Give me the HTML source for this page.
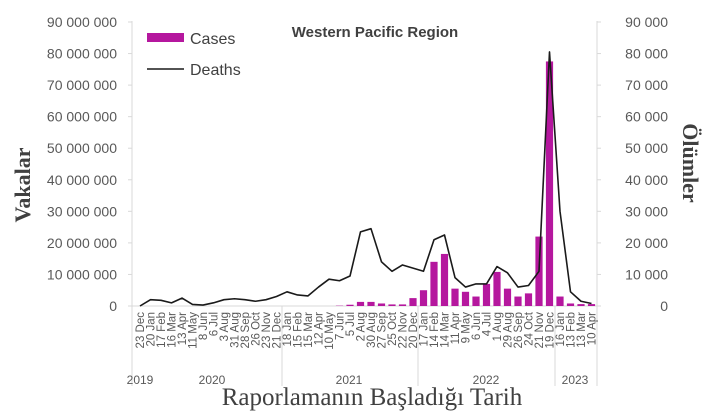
<!DOCTYPE html>
<html><head><meta charset="utf-8"><style>
html,body{margin:0;padding:0;background:#fff;width:719px;height:419px;overflow:hidden}
svg{display:block}
</style></head><body>
<svg width="719" height="419" viewBox="0 0 719 419" xmlns="http://www.w3.org/2000/svg" font-family="Liberation Sans, sans-serif">
<g id="g"></g>
</svg>
<script>
const S='http://www.w3.org/2000/svg',g=document.getElementById('g');
function el(t,a,txt){const e=document.createElementNS(S,t);for(const k in a)e.setAttribute(k,a[k]);if(txt!==undefined)e.textContent=txt;g.appendChild(e);return e;}
const y0=306,pm=(306-22)/90;
const X=i=>140+i*10.5;
el('line',{x1:132,y1:21,x2:132,y2:386,stroke:'#d9d9d9','stroke-width':1});
el('line',{x1:597,y1:21,x2:597,y2:386,stroke:'#d9d9d9','stroke-width':1});
for(const x of [282,418,555])el('line',{x1:x,y1:306,x2:x,y2:386,stroke:'#d9d9d9','stroke-width':1});
el('line',{x1:132,y1:306,x2:597,y2:306,stroke:'#d9d9d9','stroke-width':1});
for(let k=0;k<=9;k++){const y=y0-k*10*pm;
 el('line',{x1:128,y1:y,x2:132,y2:y,stroke:'#d9d9d9'});
 el('line',{x1:597,y1:y,x2:601,y2:y,stroke:'#d9d9d9'});
 el('text',{x:117,y:y+5,'text-anchor':'end','font-size':14,fill:'#595959'},k==0?'0':(k*10)+' 000 000');
 el('text',{x:668,y:y+5,'text-anchor':'end','font-size':14,fill:'#595959'},k==0?'0':(k*10)+' 000');
}
const cases={19:0.1,20:0.4,21:1.3,22:1.3,23:0.8,24:0.5,25:0.5,26:2.5,27:5,28:14,29:16.5,30:5.5,31:4.5,32:3,33:7,34:10.8,35:5.5,36:3,37:4,38:22,39:77.5,40:3,41:0.8,42:0.6,43:0.6};
for(const i in cases){const h=cases[i]*pm;el('rect',{x:X(+i)-3.6,y:y0-h,width:7.2,height:h,fill:'#b5179e'});}
const d=[0,2,1.8,1,2.5,0.5,0.3,1,2,2.3,2,1.5,2,3,4.5,3.5,3.2,6,8.5,8,9.5,23.5,24.5,14,11,13,12,11,21,22.5,9,6,7,7,12.5,10.5,6,6.5,11,80.5,30,4.5,1.5,0.8];
el('polyline',{points:d.map((v,i)=>X(i)+','+(y0-v*pm)).join(' '),fill:'none',stroke:'#1a1a1a','stroke-width':1.6,'stroke-linejoin':'round'});
const L=['23 Dec','20 Jan','17 Feb','16 Mar','13 Apr','11 May','8 Jun','6 Jul','3 Aug','31 Aug','28 Sep','26 Oct','23 Nov','21 Dec','18 Jan','15 Feb','15 Mar','12 Apr','10 May','7 Jun','5 Jul','2 Aug','30 Aug','27 Sep','25 Oct','22 Nov','20 Dec','17 Jan','14 Feb','14 Mar','11 Apr','9 May','6 Jun','4 Jul','1 Aug','29 Aug','26 Sep','24 Oct','21 Nov','19 Dec','16 Jan','13 Feb','13 Mar','10 Apr'];
L.forEach((t,i)=>{const x=X(i)+4;el('text',{x:x,y:312,'text-anchor':'end','font-size':11.5,fill:'#595959',transform:`rotate(-90 ${x} 312)`},t);});
[['2019',140],['2020',212],['2021',349],['2022',486],['2023',575]].forEach(([t,x])=>el('text',{x:x,y:384,'text-anchor':'middle','font-size':12,fill:'#595959'},t));
el('text',{x:375,y:37,'text-anchor':'middle','font-size':15,'font-weight':'bold',fill:'#404040'},'Western Pacific Region');
el('rect',{x:147,y:33,width:37,height:9,fill:'#b5179e'});
el('text',{x:190,y:44,'font-size':16,fill:'#404040'},'Cases');
el('line',{x1:147,y1:69,x2:184,y2:69,stroke:'#1a1a1a','stroke-width':1.6});
el('text',{x:190,y:75,'font-size':16,fill:'#404040'},'Deaths');
el('text',{x:372,y:405,'text-anchor':'middle','font-size':25,fill:'#404040','font-family':'Liberation Serif, serif'},'Raporlamanın Başladığı Tarih');
el('text',{x:30,y:185,'text-anchor':'middle','font-size':22,'font-weight':'bold',fill:'#404040','font-family':'Liberation Serif, serif',transform:'rotate(-90 30 185)'},'Vakalar');
el('text',{x:683,y:163,'text-anchor':'middle','font-size':22,'font-weight':'bold',fill:'#404040','font-family':'Liberation Serif, serif',transform:'rotate(90 683 163)'},'Ölümler');
</script>
</body></html>
